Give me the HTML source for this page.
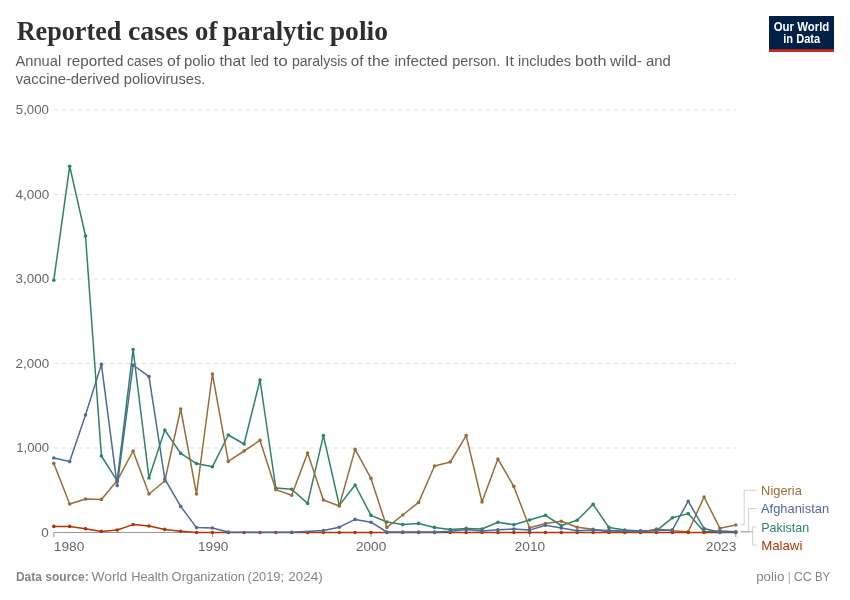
<!DOCTYPE html>
<html lang="en"><head><meta charset="utf-8"><title>Reported cases of paralytic polio</title>
<style>
html,body{margin:0;padding:0;background:#fff;}
svg{display:block;}
text{font-family:"Liberation Sans",sans-serif;}
.title{font-family:"Liberation Serif",serif;font-weight:bold;font-size:27.6px;fill:#2f2f2f;}
.sub{font-size:14px;fill:#5b5b5b;}
.tick{font-size:13.3px;fill:#666;}
.foot{font-size:12.2px;fill:#858585;}
.leg{font-size:13px;}
.logo{font-size:12.2px;font-weight:bold;fill:#fff;}
</style></head><body>
<svg width="850" height="600" viewBox="0 0 850 600">
<rect width="850" height="600" fill="#fff"/>
<text y="39.8" class="title" ><tspan x="16.7" textLength="104.7" lengthAdjust="spacingAndGlyphs">Reported</tspan> <tspan x="128.0" textLength="60.4" lengthAdjust="spacingAndGlyphs">cases</tspan> <tspan x="195.1" textLength="22.2" lengthAdjust="spacingAndGlyphs">of</tspan> <tspan x="222.7" textLength="101.6" lengthAdjust="spacingAndGlyphs">paralytic</tspan> <tspan x="329.8" textLength="58.2" lengthAdjust="spacingAndGlyphs">polio</tspan></text>
<text y="66.1" class="sub" ><tspan x="15.5" textLength="45.7" lengthAdjust="spacingAndGlyphs">Annual</tspan> <tspan x="66.7" textLength="56.7" lengthAdjust="spacingAndGlyphs">reported</tspan> <tspan x="127.0" textLength="36.0" lengthAdjust="spacingAndGlyphs">cases</tspan> <tspan x="167.1" textLength="13.2" lengthAdjust="spacingAndGlyphs">of</tspan> <tspan x="183.9" textLength="31.4" lengthAdjust="spacingAndGlyphs">polio</tspan> <tspan x="219.5" textLength="26.2" lengthAdjust="spacingAndGlyphs">that</tspan> <tspan x="250.6" textLength="18.4" lengthAdjust="spacingAndGlyphs">led</tspan> <tspan x="273.4" textLength="14.3" lengthAdjust="spacingAndGlyphs">to</tspan> <tspan x="292.0" textLength="55.4" lengthAdjust="spacingAndGlyphs">paralysis</tspan> <tspan x="350.7" textLength="12.7" lengthAdjust="spacingAndGlyphs">of</tspan> <tspan x="367.6" textLength="21.8" lengthAdjust="spacingAndGlyphs">the</tspan> <tspan x="394.5" textLength="53.1" lengthAdjust="spacingAndGlyphs">infected</tspan> <tspan x="452.2" textLength="48.2" lengthAdjust="spacingAndGlyphs">person.</tspan> <tspan x="505.0" textLength="8.9" lengthAdjust="spacingAndGlyphs">It</tspan> <tspan x="518.0" textLength="53.1" lengthAdjust="spacingAndGlyphs">includes</tspan> <tspan x="575.0" textLength="31.4" lengthAdjust="spacingAndGlyphs">both</tspan> <tspan x="610.1" textLength="31.9" lengthAdjust="spacingAndGlyphs">wild-</tspan> <tspan x="645.9" textLength="24.9" lengthAdjust="spacingAndGlyphs">and</tspan></text>
<text y="84.2" class="sub" ><tspan x="15.7" textLength="103.8" lengthAdjust="spacingAndGlyphs">vaccine-derived</tspan> <tspan x="123.8" textLength="81.6" lengthAdjust="spacingAndGlyphs">polioviruses.</tspan></text>

<g>
<rect x="769" y="16" width="65" height="36" fill="#002147"/>
<rect x="769" y="49.2" width="65" height="2.8" fill="#ce261e"/>
<text x="773.7" y="30.9" class="logo" textLength="55.6" lengthAdjust="spacingAndGlyphs" >Our World</text>
<text x="783.3" y="42.8" class="logo" textLength="36.9" lengthAdjust="spacingAndGlyphs" >in Data</text>

</g>
<g>
<text x="41.3" y="536.5" class="tick" textLength="7.5" lengthAdjust="spacingAndGlyphs" >0</text>
<line x1="53.8" x2="735.8" y1="448.0" y2="448.0" stroke="#ddd" stroke-width="1" stroke-dasharray="4 4"/>
<text x="16.2" y="452.0" class="tick" textLength="32.9" lengthAdjust="spacingAndGlyphs" >1,000</text>
<line x1="53.8" x2="735.8" y1="363.5" y2="363.5" stroke="#ddd" stroke-width="1" stroke-dasharray="4 4"/>
<text x="15.6" y="367.5" class="tick" textLength="33.5" lengthAdjust="spacingAndGlyphs" >2,000</text>
<line x1="53.8" x2="735.8" y1="279.0" y2="279.0" stroke="#ddd" stroke-width="1" stroke-dasharray="4 4"/>
<text x="15.6" y="283.0" class="tick" textLength="33.5" lengthAdjust="spacingAndGlyphs" >3,000</text>
<line x1="53.8" x2="735.8" y1="194.5" y2="194.5" stroke="#ddd" stroke-width="1" stroke-dasharray="4 4"/>
<text x="15.5" y="198.5" class="tick" textLength="33.6" lengthAdjust="spacingAndGlyphs" >4,000</text>
<line x1="53.8" x2="735.8" y1="110.0" y2="110.0" stroke="#ddd" stroke-width="1" stroke-dasharray="4 4"/>
<text x="15.8" y="114.0" class="tick" textLength="33.2" lengthAdjust="spacingAndGlyphs" >5,000</text>

<line x1="53.8" x2="735.8" y1="532.5" y2="532.5" stroke="#999" stroke-width="1"/>
<line x1="53.8" x2="53.8" y1="532.5" y2="537.3" stroke="#999" stroke-width="1"/>
<text x="53.8" y="550.6" class="tick" textLength="30.5" lengthAdjust="spacingAndGlyphs" >1980</text>
<line x1="212.4" x2="212.4" y1="532.5" y2="537.3" stroke="#999" stroke-width="1"/>
<text x="198.0" y="550.6" class="tick" textLength="30.3" lengthAdjust="spacingAndGlyphs" >1990</text>
<line x1="371.0" x2="371.0" y1="532.5" y2="537.3" stroke="#999" stroke-width="1"/>
<text x="356.0" y="550.6" class="tick" textLength="30.2" lengthAdjust="spacingAndGlyphs" >2000</text>
<line x1="529.6" x2="529.6" y1="532.5" y2="537.3" stroke="#999" stroke-width="1"/>
<text x="514.7" y="550.6" class="tick" textLength="30.5" lengthAdjust="spacingAndGlyphs" >2010</text>
<line x1="735.8" x2="735.8" y1="532.5" y2="537.3" stroke="#999" stroke-width="1"/>
<text x="705.8" y="550.6" class="tick" textLength="30.6" lengthAdjust="spacingAndGlyphs" >2023</text>

</g>
<g>
<polyline points="53.8,280.2 69.7,166.2 85.5,236.0 101.4,456.0 117.2,480.9 133.1,349.6 149.0,478.0 164.8,430.0 180.7,453.4 196.5,463.6 212.4,466.8 228.3,435.0 244.1,444.0 260.0,380.0 275.8,488.0 291.7,489.2 307.6,503.4 323.4,435.6 339.3,505.4 355.1,485.0 371.0,515.4 386.9,522.0 402.7,524.6 418.6,523.4 434.5,527.4 450.3,529.5 466.2,528.4 482.0,529.0 497.9,522.3 513.8,524.7 529.6,520.0 545.5,515.3 561.3,525.5 577.2,520.2 593.1,504.4 608.9,527.4 624.8,530.1 640.6,530.9 656.5,530.6 672.4,517.8 688.2,513.6 704.1,531.8 719.9,530.9 735.8,531.7" fill="none" stroke="#2C8465" stroke-width="1.5" stroke-linejoin="round" stroke-linecap="round"/>
<g fill="#2C8465"><circle cx="53.8" cy="280.2" r="1.8"/><circle cx="69.7" cy="166.2" r="1.8"/><circle cx="85.5" cy="236.0" r="1.8"/><circle cx="101.4" cy="456.0" r="1.8"/><circle cx="117.2" cy="480.9" r="1.8"/><circle cx="133.1" cy="349.6" r="1.8"/><circle cx="149.0" cy="478.0" r="1.8"/><circle cx="164.8" cy="430.0" r="1.8"/><circle cx="180.7" cy="453.4" r="1.8"/><circle cx="196.5" cy="463.6" r="1.8"/><circle cx="212.4" cy="466.8" r="1.8"/><circle cx="228.3" cy="435.0" r="1.8"/><circle cx="244.1" cy="444.0" r="1.8"/><circle cx="260.0" cy="380.0" r="1.8"/><circle cx="275.8" cy="488.0" r="1.8"/><circle cx="291.7" cy="489.2" r="1.8"/><circle cx="307.6" cy="503.4" r="1.8"/><circle cx="323.4" cy="435.6" r="1.8"/><circle cx="339.3" cy="505.4" r="1.8"/><circle cx="355.1" cy="485.0" r="1.8"/><circle cx="371.0" cy="515.4" r="1.8"/><circle cx="386.9" cy="522.0" r="1.8"/><circle cx="402.7" cy="524.6" r="1.8"/><circle cx="418.6" cy="523.4" r="1.8"/><circle cx="434.5" cy="527.4" r="1.8"/><circle cx="450.3" cy="529.5" r="1.8"/><circle cx="466.2" cy="528.4" r="1.8"/><circle cx="482.0" cy="529.0" r="1.8"/><circle cx="497.9" cy="522.3" r="1.8"/><circle cx="513.8" cy="524.7" r="1.8"/><circle cx="529.6" cy="520.0" r="1.8"/><circle cx="545.5" cy="515.3" r="1.8"/><circle cx="561.3" cy="525.5" r="1.8"/><circle cx="577.2" cy="520.2" r="1.8"/><circle cx="593.1" cy="504.4" r="1.8"/><circle cx="608.9" cy="527.4" r="1.8"/><circle cx="624.8" cy="530.1" r="1.8"/><circle cx="640.6" cy="530.9" r="1.8"/><circle cx="656.5" cy="530.6" r="1.8"/><circle cx="672.4" cy="517.8" r="1.8"/><circle cx="688.2" cy="513.6" r="1.8"/><circle cx="704.1" cy="531.8" r="1.8"/><circle cx="719.9" cy="530.9" r="1.8"/><circle cx="735.8" cy="531.7" r="1.8"/></g>

<polyline points="53.8,463.4 69.7,504.0 85.5,499.0 101.4,499.4 117.2,480.6 133.1,451.0 149.0,494.0 164.8,481.0 180.7,409.0 196.5,494.0 212.4,374.0 228.3,461.4 244.1,451.0 260.0,440.4 275.8,489.6 291.7,495.2 307.6,453.0 323.4,500.0 339.3,506.0 355.1,449.4 371.0,478.4 386.9,527.4 402.7,515.0 418.6,502.4 434.5,466.0 450.3,462.0 466.2,435.6 482.0,502.0 497.9,459.0 513.8,486.4 529.6,527.7 545.5,523.6 561.3,521.2 577.2,527.3 593.1,529.3 608.9,532.0 624.8,531.9 640.6,532.3 656.5,529.0 672.4,530.8 688.2,531.7 704.1,497.0 719.9,528.3 735.8,525.0" fill="none" stroke="#996D39" stroke-width="1.5" stroke-linejoin="round" stroke-linecap="round"/>
<g fill="#996D39"><circle cx="53.8" cy="463.4" r="1.8"/><circle cx="69.7" cy="504.0" r="1.8"/><circle cx="85.5" cy="499.0" r="1.8"/><circle cx="101.4" cy="499.4" r="1.8"/><circle cx="117.2" cy="480.6" r="1.8"/><circle cx="133.1" cy="451.0" r="1.8"/><circle cx="149.0" cy="494.0" r="1.8"/><circle cx="164.8" cy="481.0" r="1.8"/><circle cx="180.7" cy="409.0" r="1.8"/><circle cx="196.5" cy="494.0" r="1.8"/><circle cx="212.4" cy="374.0" r="1.8"/><circle cx="228.3" cy="461.4" r="1.8"/><circle cx="244.1" cy="451.0" r="1.8"/><circle cx="260.0" cy="440.4" r="1.8"/><circle cx="275.8" cy="489.6" r="1.8"/><circle cx="291.7" cy="495.2" r="1.8"/><circle cx="307.6" cy="453.0" r="1.8"/><circle cx="323.4" cy="500.0" r="1.8"/><circle cx="339.3" cy="506.0" r="1.8"/><circle cx="355.1" cy="449.4" r="1.8"/><circle cx="371.0" cy="478.4" r="1.8"/><circle cx="386.9" cy="527.4" r="1.8"/><circle cx="402.7" cy="515.0" r="1.8"/><circle cx="418.6" cy="502.4" r="1.8"/><circle cx="434.5" cy="466.0" r="1.8"/><circle cx="450.3" cy="462.0" r="1.8"/><circle cx="466.2" cy="435.6" r="1.8"/><circle cx="482.0" cy="502.0" r="1.8"/><circle cx="497.9" cy="459.0" r="1.8"/><circle cx="513.8" cy="486.4" r="1.8"/><circle cx="529.6" cy="527.7" r="1.8"/><circle cx="545.5" cy="523.6" r="1.8"/><circle cx="561.3" cy="521.2" r="1.8"/><circle cx="577.2" cy="527.3" r="1.8"/><circle cx="593.1" cy="529.3" r="1.8"/><circle cx="608.9" cy="532.0" r="1.8"/><circle cx="624.8" cy="531.9" r="1.8"/><circle cx="640.6" cy="532.3" r="1.8"/><circle cx="656.5" cy="529.0" r="1.8"/><circle cx="672.4" cy="530.8" r="1.8"/><circle cx="688.2" cy="531.7" r="1.8"/><circle cx="704.1" cy="497.0" r="1.8"/><circle cx="719.9" cy="528.3" r="1.8"/><circle cx="735.8" cy="525.0" r="1.8"/></g>

<polyline points="53.8,526.4 69.7,526.4 85.5,528.8 101.4,531.4 117.2,530.0 133.1,524.6 149.0,526.0 164.8,529.4 180.7,531.2 196.5,532.5 212.4,532.5 228.3,532.5 244.1,532.5 260.0,532.5 275.8,532.5 291.7,532.5 307.6,532.5 323.4,532.5 339.3,532.5 355.1,532.5 371.0,532.5 386.9,532.5 402.7,532.5 418.6,532.5 434.5,532.5 450.3,532.5 466.2,532.5 482.0,532.5 497.9,532.5 513.8,532.5 529.6,532.5 545.5,532.5 561.3,532.5 577.2,532.5 593.1,532.5 608.9,532.5 624.8,532.5 640.6,532.5 656.5,532.5 672.4,532.5 688.2,532.5 704.1,532.5 719.9,532.4 735.8,532.5" fill="none" stroke="#B13507" stroke-width="1.5" stroke-linejoin="round" stroke-linecap="round"/>
<g fill="#B13507"><circle cx="53.8" cy="526.4" r="1.8"/><circle cx="69.7" cy="526.4" r="1.8"/><circle cx="85.5" cy="528.8" r="1.8"/><circle cx="101.4" cy="531.4" r="1.8"/><circle cx="117.2" cy="530.0" r="1.8"/><circle cx="133.1" cy="524.6" r="1.8"/><circle cx="149.0" cy="526.0" r="1.8"/><circle cx="164.8" cy="529.4" r="1.8"/><circle cx="180.7" cy="531.2" r="1.8"/><circle cx="196.5" cy="532.5" r="1.8"/><circle cx="212.4" cy="532.5" r="1.8"/><circle cx="228.3" cy="532.5" r="1.8"/><circle cx="244.1" cy="532.5" r="1.8"/><circle cx="260.0" cy="532.5" r="1.8"/><circle cx="275.8" cy="532.5" r="1.8"/><circle cx="291.7" cy="532.5" r="1.8"/><circle cx="307.6" cy="532.5" r="1.8"/><circle cx="323.4" cy="532.5" r="1.8"/><circle cx="339.3" cy="532.5" r="1.8"/><circle cx="355.1" cy="532.5" r="1.8"/><circle cx="371.0" cy="532.5" r="1.8"/><circle cx="386.9" cy="532.5" r="1.8"/><circle cx="402.7" cy="532.5" r="1.8"/><circle cx="418.6" cy="532.5" r="1.8"/><circle cx="434.5" cy="532.5" r="1.8"/><circle cx="450.3" cy="532.5" r="1.8"/><circle cx="466.2" cy="532.5" r="1.8"/><circle cx="482.0" cy="532.5" r="1.8"/><circle cx="497.9" cy="532.5" r="1.8"/><circle cx="513.8" cy="532.5" r="1.8"/><circle cx="529.6" cy="532.5" r="1.8"/><circle cx="545.5" cy="532.5" r="1.8"/><circle cx="561.3" cy="532.5" r="1.8"/><circle cx="577.2" cy="532.5" r="1.8"/><circle cx="593.1" cy="532.5" r="1.8"/><circle cx="608.9" cy="532.5" r="1.8"/><circle cx="624.8" cy="532.5" r="1.8"/><circle cx="640.6" cy="532.5" r="1.8"/><circle cx="656.5" cy="532.5" r="1.8"/><circle cx="672.4" cy="532.5" r="1.8"/><circle cx="688.2" cy="532.5" r="1.8"/><circle cx="704.1" cy="532.5" r="1.8"/><circle cx="719.9" cy="532.4" r="1.8"/><circle cx="735.8" cy="532.5" r="1.8"/></g>

<polyline points="53.8,458.0 69.7,461.6 85.5,415.0 101.4,364.4 117.2,485.6 133.1,365.0 149.0,376.6 164.8,479.0 180.7,506.4 196.5,527.6 212.4,528.0 228.3,532.1 291.7,532.2 323.4,530.6 339.3,527.2 355.1,519.4 371.0,522.2 386.9,532.0 402.7,532.1 418.6,532.1 434.5,532.1 450.3,531.2 466.2,529.6 482.0,530.9 497.9,529.7 513.8,529.1 529.6,530.1 545.5,525.3 561.3,528.1 577.2,530.7 593.1,530.0 608.9,530.4 624.8,530.9 640.6,530.9 656.5,530.4 672.4,529.8 688.2,501.2 704.1,528.6 719.9,532.2 735.8,532.0" fill="none" stroke="#4C6A9C" stroke-width="1.5" stroke-linejoin="round" stroke-linecap="round"/>
<g fill="#4C6A9C"><circle cx="53.8" cy="458.0" r="1.8"/><circle cx="69.7" cy="461.6" r="1.8"/><circle cx="85.5" cy="415.0" r="1.8"/><circle cx="101.4" cy="364.4" r="1.8"/><circle cx="117.2" cy="485.6" r="1.8"/><circle cx="133.1" cy="365.0" r="1.8"/><circle cx="149.0" cy="376.6" r="1.8"/><circle cx="164.8" cy="479.0" r="1.8"/><circle cx="180.7" cy="506.4" r="1.8"/><circle cx="196.5" cy="527.6" r="1.8"/><circle cx="212.4" cy="528.0" r="1.8"/><circle cx="228.3" cy="532.1" r="1.8"/><circle cx="291.7" cy="532.2" r="1.8"/><circle cx="323.4" cy="530.6" r="1.8"/><circle cx="339.3" cy="527.2" r="1.8"/><circle cx="355.1" cy="519.4" r="1.8"/><circle cx="371.0" cy="522.2" r="1.8"/><circle cx="386.9" cy="532.0" r="1.8"/><circle cx="402.7" cy="532.1" r="1.8"/><circle cx="418.6" cy="532.1" r="1.8"/><circle cx="434.5" cy="532.1" r="1.8"/><circle cx="450.3" cy="531.2" r="1.8"/><circle cx="466.2" cy="529.6" r="1.8"/><circle cx="482.0" cy="530.9" r="1.8"/><circle cx="497.9" cy="529.7" r="1.8"/><circle cx="513.8" cy="529.1" r="1.8"/><circle cx="529.6" cy="530.1" r="1.8"/><circle cx="545.5" cy="525.3" r="1.8"/><circle cx="561.3" cy="528.1" r="1.8"/><circle cx="577.2" cy="530.7" r="1.8"/><circle cx="593.1" cy="530.0" r="1.8"/><circle cx="608.9" cy="530.4" r="1.8"/><circle cx="624.8" cy="530.9" r="1.8"/><circle cx="640.6" cy="530.9" r="1.8"/><circle cx="656.5" cy="530.4" r="1.8"/><circle cx="672.4" cy="529.8" r="1.8"/><circle cx="688.2" cy="501.2" r="1.8"/><circle cx="704.1" cy="528.6" r="1.8"/><circle cx="719.9" cy="532.2" r="1.8"/><circle cx="735.8" cy="532.0" r="1.8"/></g>

</g>
<g fill="none" stroke="#666" stroke-opacity="0.3" stroke-width="1">
<polyline points="740.6,524.8 744.2,524.8 744.2,490.2 756.7,490.2"/>
<polyline points="740.6,531.8 748.7,531.8 748.7,508.5 756.7,508.5"/>
<polyline points="740.6,531.8 752.6,531.8 752.6,526.9 756.7,526.9"/>
<polyline points="740.6,531.8 752.6,531.8 752.6,545 756.7,545"/>
</g>
<g>
<text x="761.1" y="495.0" class="leg" textLength="40.8" lengthAdjust="spacingAndGlyphs" fill="#996D39">Nigeria</text>
<text x="761.0" y="513.3" class="leg" textLength="68.1" lengthAdjust="spacingAndGlyphs" fill="#4C6A9C">Afghanistan</text>
<text x="761.3" y="531.9" class="leg" textLength="47.9" lengthAdjust="spacingAndGlyphs" fill="#2C8465">Pakistan</text>
<text x="761.2" y="549.6" class="leg" textLength="41.2" lengthAdjust="spacingAndGlyphs" fill="#B13507">Malawi</text>
</g>
<text y="581" class="foot" ><tspan x="15.9" textLength="72.8" lengthAdjust="spacingAndGlyphs"><tspan font-weight="bold">Data source:</tspan></tspan> <tspan x="91.5" textLength="35.7" lengthAdjust="spacingAndGlyphs">World</tspan> <tspan x="131.2" textLength="37.1" lengthAdjust="spacingAndGlyphs">Health</tspan> <tspan x="171.6" textLength="73.3" lengthAdjust="spacingAndGlyphs">Organization</tspan> <tspan x="247.6" textLength="36.5" lengthAdjust="spacingAndGlyphs">(2019;</tspan> <tspan x="288.3" textLength="34.5" lengthAdjust="spacingAndGlyphs">2024)</tspan></text>
<text y="581" class="foot" ><tspan x="756.2" textLength="28.2" lengthAdjust="spacingAndGlyphs">polio</tspan> <tspan x="787.5" textLength="3.5" lengthAdjust="spacingAndGlyphs"><tspan fill="#b5b5b5">|</tspan></tspan> <tspan x="793.8" textLength="18.1" lengthAdjust="spacingAndGlyphs">CC</tspan> <tspan x="814.9" textLength="15.3" lengthAdjust="spacingAndGlyphs">BY</tspan></text>
